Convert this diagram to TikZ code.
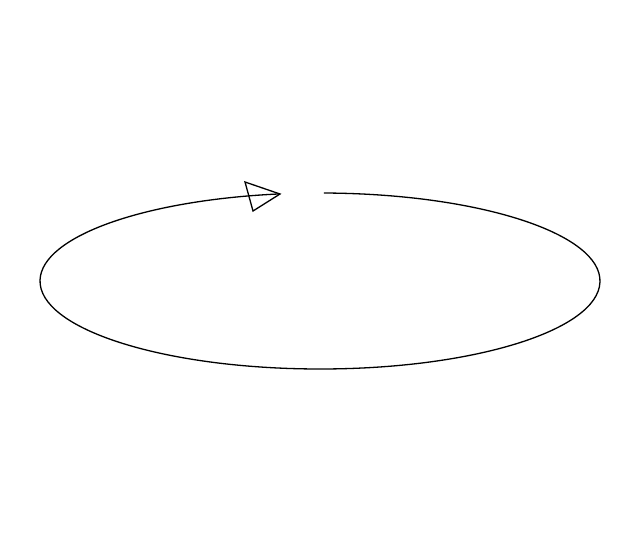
\documentclass[tikz,border=0pt]{standalone}
\begin{document}
\begin{tikzpicture}[x=1pt,y=1pt,line width=1.3pt,
  ring/.style={draw=black},
  head/.style={draw=black,line join=miter}]
\useasboundingbox (0,0) rectangle (640,550);
\coordinate (c) at (320,269);
\coordinate (tip) at (280,356);
\coordinate (b1) at (245,368);
\coordinate (b2) at (253,339);
\draw[ring] (c) ++(89.2:280 and 88) arc[start angle=89.2,end angle=-261.8,x radius=280,y radius=88];
\draw[head] (tip) -- (b1) -- (b2) -- cycle;
\end{tikzpicture}
\end{document}
